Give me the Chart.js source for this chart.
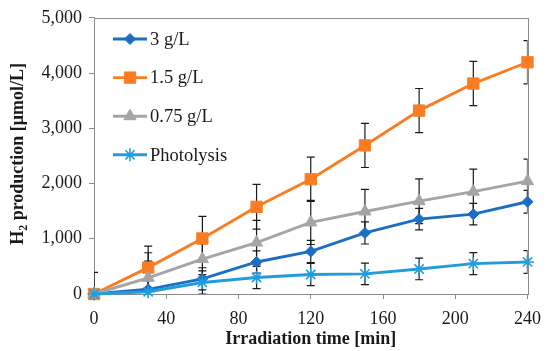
<!DOCTYPE html>
<html>
<head>
<meta charset="utf-8">
<script src="https://cdn.jsdelivr.net/npm/chart.js@4/dist/chart.umd.min.js"></script>
<style>
html,body{margin:0;padding:0;background:#fff;}
#wrap{width:550px;height:351px;position:relative;}
</style>
</head>
<body>
<div id="wrap"><canvas id="c" width="550" height="351"></canvas></div>
<script>
// ---- data ----
const times = [0, 30, 60, 90, 120, 150, 180, 210, 240];
const seriesNames = ['3 g/L', '1.5 g/L', '0.75 g/L', 'Photolysis'];
const s3g = [0, 85, 275, 580, 770, 1105, 1355, 1445, 1670];
const s15g = [0, 478, 1005, 1578, 2078, 2690, 3320, 3810, 4195];
const s075g = [0, 292, 632, 932, 1296, 1493, 1680, 1852, 2043];
const sPhoto = [0, 40, 209, 299, 353, 364, 453, 550, 580];
const e3g = [0, 510, 200, 200, 200, 200, 195, 195, 205];
const e15g = [390, 390, 400, 405, 400, 400, 400, 400, 390];
const e075g = [0, 455, 280, 400, 400, 400, 405, 410, 400];
const ePhoto = [0, 0, 210, 200, 200, 195, 195, 200, 205];
const yTicks = [0, 1000, 2000, 3000, 4000, 5000];
const xTicks = [0, 40, 80, 120, 160, 200, 240];

const FONT = "'Liberation Serif', 'Times New Roman', serif";
const AXIS_COLOR = '#8c8c8c';
const colors = ['#1b6ec2', '#fb7d23', '#a5a5a5', '#229ddc'];
const styles = ['rectRot', 'rect', 'triangle', 'star'];
const radii = [5.5, 8, 7, 6.5];
const values = [s3g, s15g, s075g, sPhoto];
const errors = [e3g, e15g, e075g, ePhoto];

const datasets = values.map((v, i) => ({
  label: seriesNames[i],
  data: v.map((y, k) => ({x: times[k], y: y})),
  err: errors[i],
  borderColor: colors[i],
  backgroundColor: colors[i],
  pointBackgroundColor: colors[i],
  pointBorderColor: colors[i],
  pointStyle: styles[i],
  pointRadius: radii[i],
  pointBorderWidth: styles[i] === 'star' ? 1.6 : 1,
  borderWidth: 2.9,
  tension: 0,
  order: 4 - i,
  clip: false
}));

const errorBars = {
  id: 'errorBars',
  beforeDatasetsDraw(chart) {
    const {ctx, chartArea, scales} = chart;
    ctx.save();
    ctx.beginPath();
    ctx.rect(chartArea.left, chartArea.top, chartArea.right - chartArea.left, chartArea.bottom - chartArea.top);
    ctx.clip();
    ctx.strokeStyle = '#1a1a1a';
    ctx.lineWidth = 1.2;
    chart.data.datasets.forEach(ds => {
      ds.data.forEach((p, k) => {
        const e = ds.err[k];
        if (!e) return;
        const x = scales.x.getPixelForValue(p.x);
        const y1 = scales.y.getPixelForValue(p.y + e);
        const y2 = scales.y.getPixelForValue(p.y - e);
        ctx.beginPath();
        ctx.moveTo(x, y1); ctx.lineTo(x, y2);
        ctx.moveTo(x - 4, y1); ctx.lineTo(x + 4, y1);
        ctx.moveTo(x - 4, y2); ctx.lineTo(x + 4, y2);
        ctx.stroke();
      });
    });
    ctx.restore();
  }
};

const frame = {
  id: 'frame',
  beforeDatasetsDraw(chart) {
    const {ctx, chartArea} = chart;
    ctx.save();
    ctx.strokeStyle = AXIS_COLOR;
    ctx.lineWidth = 1;
    ctx.strokeRect(Math.round(chartArea.left) + 0.5, Math.round(chartArea.top) + 0.5,
      Math.round(chartArea.right - chartArea.left), Math.round(chartArea.bottom - chartArea.top));
    ctx.restore();
  }
};

function drawMarker(ctx, style, r, x, y, color, bw) {
  if (Chart.helpers && Chart.helpers.drawPoint) {
    ctx.fillStyle = color; ctx.strokeStyle = color; ctx.lineWidth = bw;
    Chart.helpers.drawPoint(ctx, {pointStyle: style, radius: r, borderWidth: bw, rotation: 0}, x, y);
  }
}

const customLegend = {
  id: 'customLegend',
  afterDraw(chart) {
    const {ctx} = chart;
    ctx.save();
    chart.data.datasets.forEach((ds, i) => {
      const y = 39 + i * 38.6;
      ctx.strokeStyle = ds.borderColor;
      ctx.lineWidth = 2.9;
      ctx.beginPath();
      ctx.moveTo(113, y); ctx.lineTo(147, y);
      ctx.stroke();
      drawMarker(ctx, ds.pointStyle, ds.pointRadius, 130, y, ds.borderColor, ds.pointBorderWidth);
      ctx.fillStyle = '#1a1a1a';
      ctx.font = '18.5px ' + FONT;
      ctx.textAlign = 'left';
      ctx.textBaseline = 'middle';
      ctx.fillText(ds.label, 150, y + 1);
    });
    ctx.restore();
  }
};

const yTitle = {
  id: 'yTitle',
  afterDraw(chart) {
    const {ctx, chartArea} = chart;
    const cx = 17, cy = (chartArea.top + chartArea.bottom) / 2 - 2;
    const big = 'bold 18px ' + FONT, small = 'bold 12px ' + FONT;
    const t1 = 'H', t2 = '2', t3 = ' production [μmol/L]';
    ctx.save();
    ctx.font = big; const w1 = ctx.measureText(t1).width; const w3 = ctx.measureText(t3).width;
    ctx.font = small; const w2 = ctx.measureText(t2).width;
    const total = w1 + w2 + w3;
    ctx.translate(cx, cy);
    ctx.rotate(-Math.PI / 2);
    ctx.fillStyle = '#1a1a1a';
    ctx.textAlign = 'left';
    ctx.textBaseline = 'alphabetic';
    let x = -total / 2;
    ctx.font = big; ctx.fillText(t1, x, 6); x += w1;
    ctx.font = small; ctx.fillText(t2, x, 10); x += w2;
    ctx.font = big; ctx.fillText(t3, x, 6);
    ctx.restore();
  }
};

new Chart(document.getElementById('c'), {
  type: 'line',
  data: {datasets: datasets},
  options: {
    responsive: false,
    animation: false,
    devicePixelRatio: 1,
    layout: {padding: {left: 0, top: 15, right: 18, bottom: 0}},
    plugins: {legend: {display: false}, tooltip: {enabled: false}},
    scales: {
      x: {
        type: 'linear', min: 0, max: 240,
        afterBuildTicks(s) { s.ticks = xTicks.map(v => ({value: v})); },
        afterFit(s) { s.height = 57; },
        ticks: {font: {family: FONT, size: 18}, color: '#1a1a1a', padding: 9, maxRotation: 0},
        grid: {display: true, drawOnChartArea: false, drawTicks: true, tickLength: 5, color: AXIS_COLOR},
        border: {display: true, color: AXIS_COLOR},
        title: {display: true, text: 'Irradiation time [min]', color: '#1a1a1a',
          font: {family: FONT, size: 18, weight: 'bold'}, padding: {top: 0, bottom: 1}}
      },
      y: {
        min: 0, max: 5000,
        afterBuildTicks(s) { s.ticks = yTicks.map(v => ({value: v})); },
        afterFit(s) { s.width = 94; },
        ticks: {font: {family: FONT, size: 18}, color: '#1a1a1a', padding: 7,
          callback: v => v.toLocaleString('en-US')},
        grid: {display: true, drawOnChartArea: false, drawTicks: true, tickLength: 5, color: AXIS_COLOR},
        border: {display: true, color: AXIS_COLOR}
      }
    }
  },
  plugins: [frame, errorBars, customLegend, yTitle]
});
</script>
</body>
</html>
